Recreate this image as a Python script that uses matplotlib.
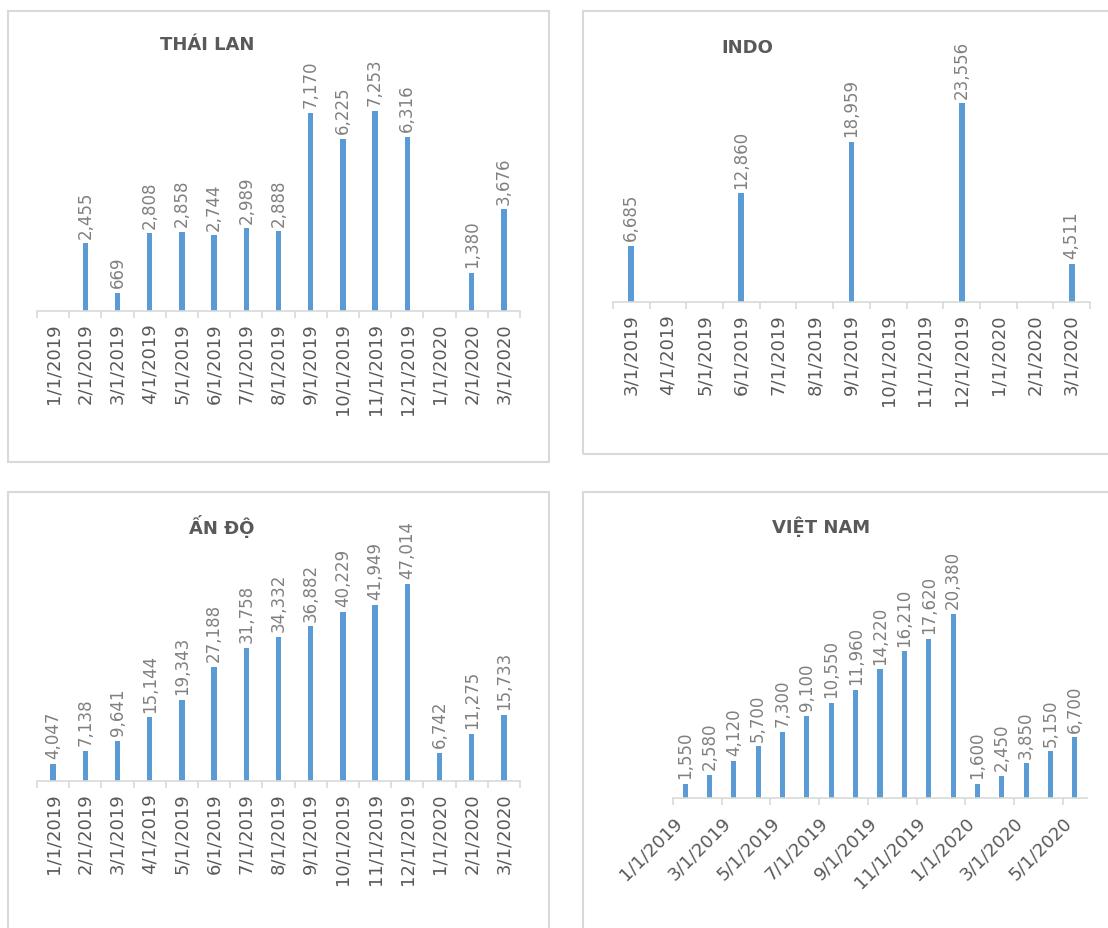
import matplotlib
matplotlib.use('Agg')
import matplotlib.pyplot as plt
from matplotlib.patches import Rectangle
import numpy as np

plt.rcParams['font.family'] = ['DejaVu Sans']

nan = np.nan

# Thai Lan: 1/2019 - 3/2020
thai_labels = ['1/1/2019', '2/1/2019', '3/1/2019', '4/1/2019', '5/1/2019', '6/1/2019',
               '7/1/2019', '8/1/2019', '9/1/2019', '10/1/2019', '11/1/2019', '12/1/2019',
               '1/1/2020', '2/1/2020', '3/1/2020']
thai_values = [nan, 2455, 669, 2808, 2858, 2744, 2989, 2888, 7170, 6225, 7253, 6316,
               nan, 1380, 3676]

# Indo: 3/2019 - 3/2020 (quarterly data)
indo_labels = ['3/1/2019', '4/1/2019', '5/1/2019', '6/1/2019', '7/1/2019', '8/1/2019',
               '9/1/2019', '10/1/2019', '11/1/2019', '12/1/2019', '1/1/2020', '2/1/2020',
               '3/1/2020']
indo_values = [6685, nan, nan, 12860, nan, nan, 18959, nan, nan, 23556, nan, nan, 4511]

# An Do: 1/2019 - 3/2020
india_labels = thai_labels
india_values = [4047, 7138, 9641, 15144, 19343, 27188, 31758, 34332, 36882, 40229, 41949,
                47014, 6742, 11275, 15733]

# Viet Nam: 1/2019 - 5/2020, labels every 2 months
vn_labels = ['1/1/2019', '3/1/2019', '5/1/2019', '7/1/2019', '9/1/2019', '11/1/2019',
             '1/1/2020', '3/1/2020', '5/1/2020']
vn_values = [1550, 2580, 4120, 5700, 7300, 9100, 10550, 11960, 14220, 16210, 17620, 20380,
             1600, 2450, 3850, 5150, 6700]

BAR = '#5b9bd5'
GRID = '#d9d9d9'
TXT = '#595959'
LBL = '#808080'

W, H = 1108, 929
fig = plt.figure(figsize=(W / 100, H / 100), dpi=100)


def px_axes(l, t, r, b):
    return fig.add_axes([l / W, 1 - b / H, (r - l) / W, (b - t) / H])


def panel(l, t, r, b):
    fig.patches.append(Rectangle((l / W, 1 - b / H), (r - l) / W, (b - t) / H,
                                 transform=fig.transFigure, fill=False,
                                 edgecolor=GRID, linewidth=1.5))


def style(ax, n, ymax):
    ax.set_xlim(-0.5, n - 0.5)
    ax.set_ylim(0, ymax)
    for s in ['top', 'right', 'left']:
        ax.spines[s].set_visible(False)
    ax.spines['bottom'].set_color(GRID)
    ax.spines['bottom'].set_linewidth(1.2)
    ax.set_yticks([])
    ax.patch.set_alpha(0)


def bars(ax, values, width):
    x = np.arange(len(values))
    v = np.array(values, dtype=float)
    ax.bar(x, np.nan_to_num(v), width=width, color=BAR, edgecolor='none')
    for xi, vi in zip(x, v):
        if np.isnan(vi):
            continue
        ax.annotate(f'{int(vi):,}', (xi, vi), xytext=(0, 4), textcoords='offset points',
                    rotation=90, ha='center', va='bottom', fontsize=12, color=LBL)


def cat_axis(ax, labels):
    n = len(labels)
    ax.set_xticks(np.arange(n))
    ax.set_xticklabels(labels, rotation=90, fontsize=13, color=TXT, va='top')
    ax.tick_params(axis='x', which='major', length=0, pad=8)
    ax.set_xticks(np.arange(n + 1) - 0.5, minor=True)
    ax.tick_params(axis='x', which='minor', length=5, width=1.2, color=GRID)


# panel frames
panel(8, 12, 549, 463)
panel(583, 12, 1120, 455)
panel(8, 493, 549, 940)
panel(583, 493, 1120, 940)

# THAI LAN
ax = px_axes(37, 91, 520, 312)
style(ax, len(thai_values), 8000)
bars(ax, thai_values, 0.17)
cat_axis(ax, thai_labels)
fig.text(207 / W, 1 - 45 / H, 'THÁI LAN', ha='center', va='center', fontsize=13,
         fontweight='bold', color=TXT)

# INDO
ax = px_axes(613, 92, 1090, 303)
style(ax, len(indo_values), 25000)
bars(ax, indo_values, 0.16)
cat_axis(ax, indo_labels)
fig.text(747 / W, 1 - 48 / H, 'INDO', ha='center', va='center', fontsize=13,
         fontweight='bold', color=TXT)

# AN DO
ax = px_axes(37, 572, 520, 782)
style(ax, len(india_values), 50000)
bars(ax, india_values, 0.17)
cat_axis(ax, india_labels)
fig.text(222 / W, 1 - 527 / H, 'ẤN ĐỘ', ha='center', va='center', fontsize=13,
         fontweight='bold', color=TXT)

# VIET NAM
ax = px_axes(673, 573, 1087, 799)
style(ax, len(vn_values), 25000)
bars(ax, vn_values, 0.21)
pos = np.arange(0, len(vn_values), 2) - 0.5
ax.set_xticks(pos)
ax.set_xticklabels(vn_labels, rotation=45, ha='right', va='top',
                   rotation_mode='anchor', fontsize=13, color=TXT)
ax.tick_params(axis='x', length=5, width=1.2, color=GRID, pad=6)
fig.text(821 / W, 1 - 527 / H, 'VIỆT NAM', ha='center', va='center', fontsize=13,
         fontweight='bold', color=TXT)

fig.savefig('out.png', dpi=100, facecolor='white')
